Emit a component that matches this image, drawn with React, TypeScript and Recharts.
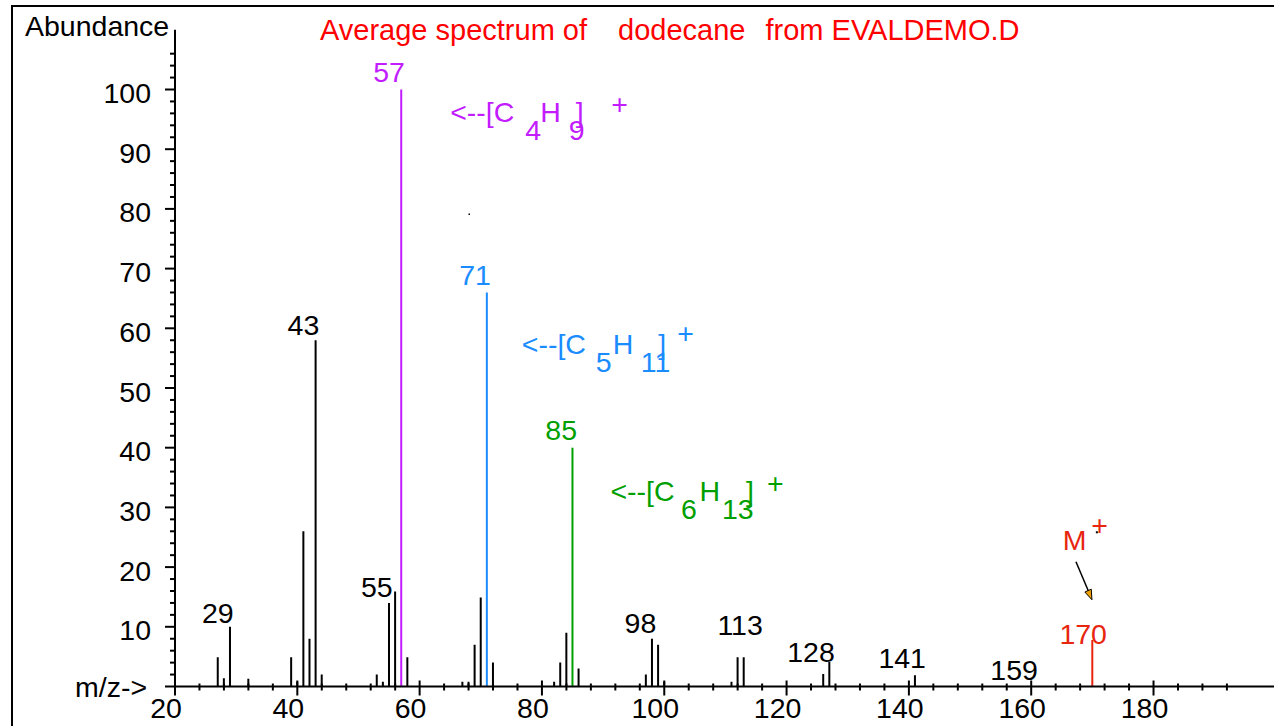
import React from 'react';
import { ComposedChart, Bar, XAxis, YAxis, Cell, ReferenceDot } from 'recharts';

const FONT = '"Liberation Sans", Arial, Helvetica, sans-serif';
const FS = 28.5;

// Peaks: m/z and relative abundance
const mzValues = [27, 28, 29, 32, 39, 40, 41, 42, 43, 44, 53, 54, 55, 56, 57, 58, 67, 68, 69, 70, 71, 72, 82, 83, 84, 85, 86, 97, 98, 99, 100, 111, 112, 113, 126, 127, 141, 170];
const abundances = [4.9, 1.4, 10, 1.3, 4.9, 0.8, 26, 8, 58, 2, 2, 0.8, 14, 15.9, 100, 4.9, 0.8, 0.8, 7, 14.9, 66, 4, 0.8, 4, 9, 40, 3, 2, 8, 7, 0.8, 0.8, 4.9, 4.9, 2.1, 4.1, 1.9, 7.8];

// Highlighted peaks
const highlightMz = [57, 71, 85, 170];
const highlightColors = ['#c21cff', '#1a8cff', '#009f00', '#e8250f'];

// Peak labels (center m/z, baseline abundance)
const labelTexts = ['29', '43', '55', '57', '71', '85', '98', '113', '128', '141', '159', '170'];
const labelMz = [27.0, 41.0, 53.0, 55.0, 69.05, 83.15, 96.1, 112.4, 124.0, 138.9, 157.2, 168.5];
const labelAbund = [10.6, 58.9, 15.0, 101.3, 67.3, 41.3, 9.0, 8.6, 4.1, 3.1, 1.1, 7.1];
const labelColors = ['#000', '#000', '#000', '#c21cff', '#1a8cff', '#009f00', '#000', '#000', '#000', '#000', '#000', '#e8250f'];

// Axis ticks
const xTicks = [20, 24, 28, 32, 36, 40, 44, 48, 52, 56, 60, 64, 68, 72, 76, 80, 84, 88, 92, 96, 100, 104, 108, 112, 116, 120, 124, 128, 132, 136, 140, 144, 148, 152, 156, 160, 164, 168, 172, 176, 180, 184, 188, 192];
const yTicks = [0, 2, 4, 6, 8, 10, 12, 14, 16, 18, 20, 22, 24, 26, 28, 30, 32, 34, 36, 38, 40, 42, 44, 46, 48, 50, 52, 54, 56, 58, 60, 62, 64, 66, 68, 70, 72, 74, 76, 78, 80, 82, 84, 86, 88, 90, 92, 94, 96, 98, 100, 102, 104, 106];

// Ion formula annotations: anchor (m/z, abundance), text pieces [text, dx, dy]
const formulas = [
  { mz: 65.0, ab: 94.6, color: '#c21cff', parts: [['<--[C', 0, 0], ['4', 75, 18.5], ['H', 90, 0], ['9', 118.5, 18.5], [']', 125.5, 0], ['+', 161, -8]] },
  { mz: 76.7, ab: 55.7, color: '#1a8cff', parts: [['<--[C', 0, 0], ['5', 74, 18.5], ['H', 91, 0], ['11', 119, 18.5], [']', 136.5, 0], ['+', 155.5, -11]] },
  { mz: 91.2, ab: 31.0, color: '#009f00', parts: [['<--[C', 0, 0], ['6', 70.5, 18], ['H', 89, 0], ['13', 111.5, 18], [']', 135.5, 0], ['+', 156.5, -8]] },
];

const data = mzValues.map((mz, i) => {
  const h = highlightMz.indexOf(mz);
  return { mz, abundance: abundances[i], color: h >= 0 ? highlightColors[h] : '#000' };
});

const XTick = (props: any) => {
  const { x, y, payload } = props;
  const v = payload.value;
  const major = v % 20 === 0;
  return (
    <g>
      <line x1={x} x2={x} y1={major ? y - 6 : y - 3} y2={major ? y + 9 : y + 4} stroke="#000" strokeWidth={2} />
      {major && (
        <text x={x - 9} y={y + 31} textAnchor="middle" fontFamily={FONT} fontSize={FS} fill="#000">
          {v}
        </text>
      )}
    </g>
  );
};

const YTick = (props: any) => {
  const { x, y, payload } = props;
  const v = payload.value;
  const major = v % 10 === 0;
  return (
    <g>
      <line x1={major ? x - 10 : x - 5} x2={x} y1={y} y2={y} stroke="#000" strokeWidth={2} />
      {major && v > 0 && (
        <text x={x - 24} y={y + 13.5} textAnchor="end" fontFamily={FONT} fontSize={FS} fill="#000">
          {v}
        </text>
      )}
    </g>
  );
};

const makeLabelShape = (text: string, color: string) => (p: any) => (
  <text x={p.cx} y={p.cy} textAnchor="middle" fontFamily={FONT} fontSize={FS} fill={color}>
    {text}
  </text>
);

const makeFormulaShape = (parts: any[], color: string) => (p: any) => (
  <g>
    {parts.map((pt, i) => (
      <text key={i} x={p.cx + pt[1]} y={p.cy + pt[2]} fontFamily={FONT} fontSize={FS} fill={color}>
        {pt[0]}
      </text>
    ))}
  </g>
);

const molecularIonShape = (p: any) => {
  const tipX = p.cx - 0.4;
  const tipY = p.cy + 50;
  return (
    <g>
      <text x={p.cx - 29.5} y={p.cy} fontFamily={FONT} fontSize={FS} fill="#e8250f">M</text>
      <text x={p.cx - 1} y={p.cy - 15} fontFamily={FONT} fontSize={FS} fill="#e8250f">+</text>
      <rect x={p.cx + 3.5} y={p.cy - 18.5} width={2} height={2} fill="#000" />
      <line x1={p.cx - 16.4} y1={p.cy + 12} x2={tipX - 2} y2={tipY - 5} stroke="#000" strokeWidth={1.5} />
      <polygon
        points={`${tipX},${tipY} ${p.cx - 1.1},${p.cy + 39.4} ${p.cx - 7.5},${p.cy + 42.2}`}
        fill="#f0a000"
        stroke="#000"
        strokeWidth={1}
      />
    </g>
  );
};

export default function App() {
  return (
    <div style={{ position: 'absolute', left: 0, top: 0, width: 1274, height: 726, background: '#fff', overflow: 'hidden' }}>
      <ComposedChart
        width={1274}
        height={726}
        data={data}
        margin={{ top: 29.8, right: 0, bottom: 9.5, left: 75 }}
      >
        <XAxis
          dataKey="mz"
          type="number"
          domain={[20, 199.7]}
          allowDataOverflow
          ticks={xTicks}
          interval={0}
          tickSize={0}
          tickMargin={0}
          tickLine={false}
          tick={<XTick />}
          height={30}
          axisLine={{ stroke: '#000', strokeWidth: 2 }}
        />
        <YAxis
          type="number"
          domain={[0, 110]}
          allowDataOverflow
          ticks={yTicks}
          interval={0}
          tickSize={0}
          tickMargin={0}
          tickLine={false}
          tick={<YTick />}
          width={100}
          axisLine={{ stroke: '#000', strokeWidth: 2 }}
        />
        <Bar dataKey="abundance" barSize={2} isAnimationActive={false}>
          {data.map((d, i) => (
            <Cell key={i} fill={d.color} />
          ))}
        </Bar>
        {labelTexts.map((t, i) => (
          <ReferenceDot
            key={'l' + i}
            x={labelMz[i]}
            y={labelAbund[i]}
            r={0}
            ifOverflow="visible"
            shape={makeLabelShape(t, labelColors[i])}
          />
        ))}
        {formulas.map((f, i) => (
          <ReferenceDot
            key={'f' + i}
            x={f.mz}
            y={f.ab}
            r={0}
            ifOverflow="visible"
            shape={makeFormulaShape(f.parts, f.color)}
          />
        ))}
        <ReferenceDot x={170} y={22.9} r={0} ifOverflow="visible" shape={molecularIonShape} />
      </ComposedChart>
      <svg
        width={1274}
        height={726}
        style={{ position: 'absolute', left: 0, top: 0, pointerEvents: 'none' }}
      >
        <line x1={12} y1={5} x2={12} y2={726} stroke="#000" strokeWidth={2} />
        <line x1={11} y1={6} x2={1274} y2={6} stroke="#000" strokeWidth={2} />
        <text x={25} y={36} fontFamily={FONT} fontSize={FS} fill="#000">Abundance</text>
        <text x={75} y={697} fontFamily={FONT} fontSize={FS} fill="#000">m/z-&gt;</text>
        <text x={320} y={40} fontFamily={FONT} fontSize={29} fill="#ff0000">Average spectrum of</text>
        <text x={618} y={40} fontFamily={FONT} fontSize={29} fill="#ff0000">dodecane</text>
        <text x={765.5} y={40} fontFamily={FONT} fontSize={29} fill="#ff0000">from EVALDEMO.D</text>
        <rect x={468.5} y={213.5} width={1.5} height={1.5} fill="#000" />
      </svg>
    </div>
  );
}
